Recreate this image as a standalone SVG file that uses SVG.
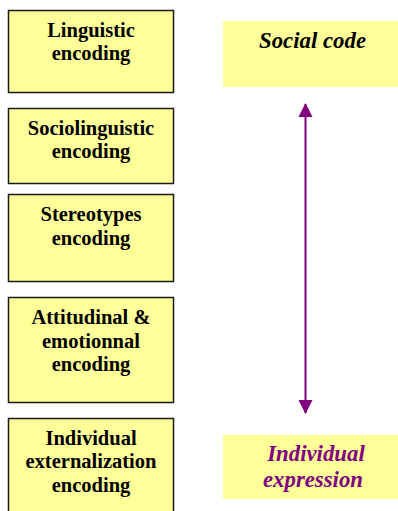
<svg xmlns="http://www.w3.org/2000/svg" width="398" height="511" viewBox="0 0 398 511">
<style>
.box{fill:#FFFF99;stroke:#1a1a1a;stroke-width:1.5}
.rbox{fill:#FFFF99;stroke:none}
.t{font-family:"Liberation Serif","Times New Roman",serif;font-weight:bold;font-size:20.5px;fill:#000;text-anchor:middle}
.it{font-family:"Liberation Serif","Times New Roman",serif;font-weight:bold;font-style:italic;font-size:22.8px;text-anchor:middle}
</style>
<defs>
<marker id="ah" markerWidth="14" markerHeight="15" refX="13" refY="7" orient="auto-start-reverse" markerUnits="userSpaceOnUse" viewBox="0 0 14 14">
<path d="M0,0 L14,7 L0,14 Z" fill="#800080"/>
</marker>
</defs>
<g id="n1"><rect class="box" x="8.5" y="10.5" width="165" height="82"/><text class="t" x="91" y="37">Linguistic</text><text class="t" x="91" y="60">encoding</text></g>
<g id="n2"><rect class="box" x="8.5" y="108.5" width="165" height="75"/><text class="t" x="91" y="135">Sociolinguistic</text><text class="t" x="91" y="158">encoding</text></g>
<g id="n3"><rect class="box" x="8.5" y="194.5" width="165" height="87"/><text class="t" x="91" y="221">Stereotypes</text><text class="t" x="91" y="245">encoding</text></g>
<g id="n4"><rect class="box" x="8.5" y="297.5" width="165" height="105"/><text class="t" x="91" y="324">Attitudinal &amp;</text><text class="t" x="91" y="348">emotionnal</text><text class="t" x="91" y="371">encoding</text></g>
<g id="n5"><rect class="box" x="8.5" y="418.5" width="165" height="100"/><text class="t" x="91" y="445">Individual</text><text class="t" x="91" y="468">externalization</text><text class="t" x="91" y="492">encoding</text></g>
<g id="social"><rect class="rbox" x="223" y="21" width="175" height="66"/><text class="it" x="312.5" y="48" fill="#000">Social code</text></g>
<g id="indiv"><rect class="rbox" x="223" y="435" width="175" height="64"/><text class="it" x="316" y="461" fill="#800080">Individual</text><text class="it" x="313" y="487" fill="#800080">expression</text></g>
<g id="connectors"><line x1="305.5" y1="104" x2="305.5" y2="413" stroke="#800080" stroke-width="2" marker-start="url(#ah)" marker-end="url(#ah)"/></g>
</svg>
